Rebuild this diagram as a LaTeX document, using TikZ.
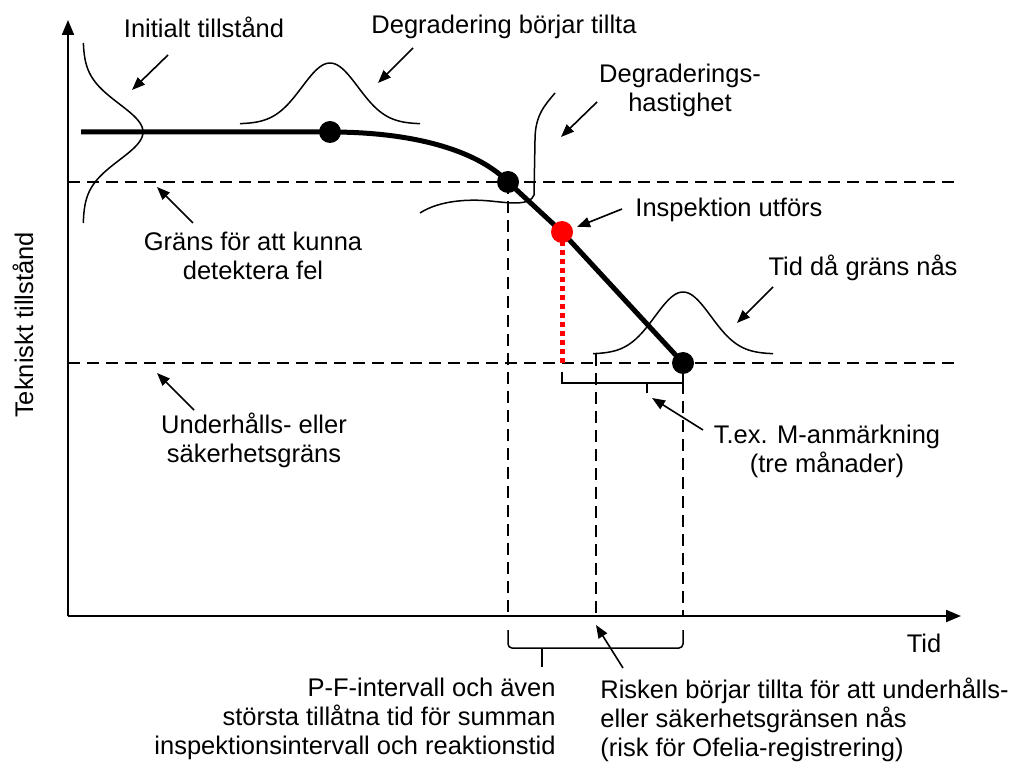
\documentclass[tikz,border=0pt]{standalone}
\usepackage{fontspec}
\setmainfont{Liberation Sans}
\usetikzlibrary{arrows.meta}
\definecolor{InspRed}{HTML}{FF0000}

\begin{document}
\begin{tikzpicture}[x=0.5pt,y=-0.5pt,
  font=\fontsize{12.75}{14.5}\selectfont,
  lbl/.style={align=center,inner sep=0pt},
  axis/.style={line width=1pt,-{Triangle[length=7.5pt,width=6pt]}},
  pointer/.style={line width=0.8pt,-{Triangle[length=6.5pt,width=5pt]}},
  limit/.style={line width=0.75pt,dash pattern=on 6pt off 3.5pt},
  thinline/.style={line width=0.75pt},
  curve/.style={line width=2.5pt},
  dot/.style={circle,fill=black,minimum size=11pt,inner sep=0pt}]
  \useasboundingbox (0,0) rectangle (1021,769);

  % axes
  \coordinate (O) at (68,616);
  \coordinate (ytop) at (68,20);
  \coordinate (xend) at (961,616);
  \draw[axis] (O) -- (ytop);
  \draw[axis] (O) -- (xend);
  \node[lbl] (tid) at (924,643) {Tid};
  \node[lbl,rotate=90] (tillstand) at (23,325) {Tekniskt tillstånd};

  % limits
  \draw[limit] (68,182) -- (960,182);
  \draw[limit] (68,363) -- (960,363);
  \foreach \x/\y in {508/182,596/354,683/363}
    \draw[limit] (\x,\y) -- (\x,616);

  % distributions
  \draw[thinline] plot[domain=43:223,samples=80] ({83+60*exp(-((\x-132)*(\x-132))/1568)},\x);
  \draw[thinline] plot[domain=240:420,samples=80] (\x,{124-61*exp(-((\x-330)*(\x-330))/1568)});
  \draw[thinline] plot[domain=593:773,samples=80] (\x,{354-62*exp(-((\x-683)*(\x-683))/1568)});
  \draw[thinline] (420,213) .. controls (440,200) and (470,199) .. (490,201)
    .. controls (510,203) and (530,206) .. (534,195) -- (535,140)
    .. controls (535,115) and (545,105) .. (555,93);

  % degradation curve
  \coordinate (start) at (81,132);
  \node[dot] (p0) at (330,132) {};
  \node[dot] (p1) at (508,182) {};
  \node[dot] (p3) at (683,363) {};
  \coordinate (p2) at (562,232);
  \coordinate (p2foot) at (562,363);
  \draw[curve] (start) -- (p0.center) .. controls (420,132) and (480,153) .. (p1.center)
    -- (p2) -- (p3.center);
  \draw[InspRed,line width=2.5pt,dash pattern=on 2.5pt off 2pt] (p2) -- (p2foot);
  \node[dot,fill=InspRed] (insp) at (p2) {};

  % brackets
  \draw[thinline,rounded corners=2pt] (508,630) -- (508,648) -- (683,648) -- (683,630);
  \draw[thinline] (542,648) -- (542,667);
  \draw[thinline] (562,372) -- (562,383) -- (683,383) -- (683,372);
  \draw[thinline] (647,383) -- (647,393);

  % labels
  \node[lbl] (initial) at (204,27) {Initialt tillstånd};
  \node[lbl] (degstart) at (504,27) {Degradering börjar tillta};
  \node[lbl] (degrate) at (680,90) {Degraderings-\\hastighet};
  \node[lbl,anchor=west] (inspection) at (635,210) {Inspektion utförs};
  \node[lbl] (detect) at (253,256) {Gräns för att kunna\\detektera fel};
  \node[lbl] (safety) at (254,440) {Underhålls- eller\\säkerhetsgräns};
  \node[lbl] (reached) at (863,268) {Tid då gräns nås};
  \node[lbl] (mnote) at (827,451) {T.ex. M-anmärkning\\(tre månader)};
  \node[lbl,align=right,anchor=east] (pfint) at (556,719)
    {P-F-intervall och även\\största tillåtna tid för summan\\inspektionsintervall och reaktionstid};
  \node[lbl,align=left,anchor=west] (risk) at (600,720)
    {Risken börjar tillta för att underhålls-\\eller säkerhetsgränsen nås\\(risk för Ofelia-registrering)};

  % pointers
  \foreach \name/\ta/\tb/\ha/\hb in {ini/168/55/132/90, dst/413/48/378/83,
      drt/597/102/561/137, ins/622/209/577/227, det/193/223/157/187,
      saf/194/410/157/373, rea/773/287/737/323, mno/703/430/652/398,
      rsk/623/668/596/625} {
    \coordinate (\name-tail) at (\ta,\tb);
    \coordinate (\name-tip) at (\ha,\hb);
    \draw[pointer] (\name-tail) -- (\name-tip);
  }
\end{tikzpicture}
\end{document}
